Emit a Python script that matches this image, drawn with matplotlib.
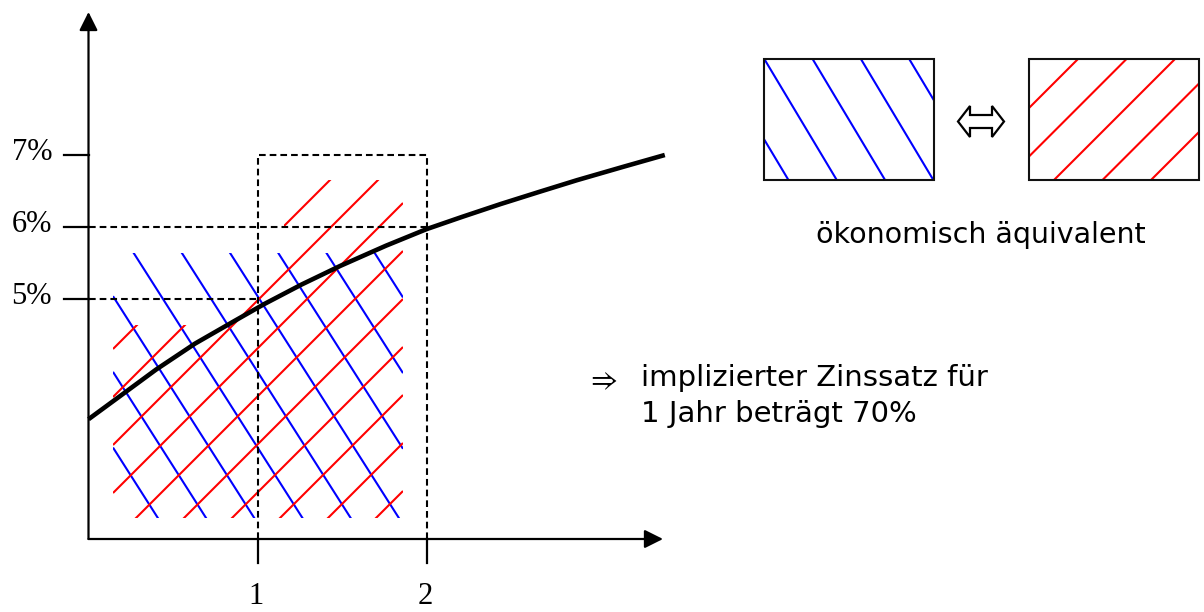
"""
Zinsstrukturkurve mit implizitem Terminzins (Skizze).
"""

import matplotlib.pyplot as plt
import numpy as np
from matplotlib.patches import Polygon, Rectangle

plt.rcParams["lines.scale_dashes"] = False

# Zinsstrukturkurve (Laufzeit in Jahren, Zins in %)
curve_years = [0.0, 0.18, 0.40, 0.63, 0.86, 1.04, 1.26, 1.49, 1.76, 2.00,
               2.21, 2.44, 2.67, 2.89, 3.17, 3.41]
curve_rates = [3.33, 3.64, 4.02, 4.38, 4.69, 4.93, 5.20, 5.46, 5.74, 5.97,
               6.14, 6.32, 6.49, 6.65, 6.84, 7.00]

rate_ticks = [5, 6, 7]
rate_labels = ["5%", "6%", "7%"]
year_ticks = [1, 2]
year_labels = ["1", "2"]

spot_1y = 5.0      # Zins 1 Jahr
spot_2y = 6.0      # Zins 2 Jahre
forward_rate = 7.0  # Terminzins Jahr 1 -> 2

# pixel -> data mapping of the reference (x: 169 px per year, y: 72 px per %)
PX_X0, PX_PER_YEAR = 88.5, 169.0
PX_Y7, PX_PER_PCT = 155.0, 72.0
W, H = 1204, 612


def px_x(px):
    return (px - PX_X0) / PX_PER_YEAR


def px_y(py):
    return 7 - (py - PX_Y7) / PX_PER_PCT


def hatch(ax, verts, slope, spacing, anchor, color, lw=1.5, zorder=2):
    """Parallel lines through anchor, clipped to the polygon verts."""
    region = Polygon(verts, closed=True, fill=False, edgecolor="none")
    ax.add_patch(region)
    xs = [v[0] for v in verts]
    x_lo, x_hi = min(xs), max(xs)
    xx = np.array([x_lo, x_hi])
    for k in range(-40, 41):
        yy = anchor[1] + slope * (xx - anchor[0] - k * spacing)
        (line,) = ax.plot(xx, yy, color=color, lw=lw, zorder=zorder,
                          solid_capstyle="butt")
        line.set_clip_path(region)


fig = plt.figure(figsize=(W / 100, H / 100), dpi=100)
ax = fig.add_axes([0, 0, 1, 1])
ax.set_xlim(px_x(0), px_x(W))
ax.set_ylim(px_y(H), px_y(0))
ax.axis("off")

y_base = px_y(539)
x_end = px_x(663)
y_end = px_y(12)

# axes with arrow heads
arrow = dict(arrowstyle="-|>,head_length=0.8,head_width=0.4", mutation_scale=14,
             lw=1.6, color="black", shrinkA=0, shrinkB=0)
ax.annotate("", xy=(0, y_end), xytext=(0, y_base), arrowprops=arrow)
ax.annotate("", xy=(x_end, y_base), xytext=(0, y_base), arrowprops=arrow)

serif = "Liberation Serif"
for r, lab in zip(rate_ticks, rate_labels):
    ax.plot([px_x(63.5), 0], [r, r], color="black", lw=1.6)
    ax.text(px_x(52), r + 0.04, lab, ha="right", va="center", fontsize=22,
            family=serif)
for t, lab in zip(year_ticks, year_labels):
    ax.plot([t, t], [y_base, px_y(563)], color="black", lw=1.6)
    ax.text(t - 0.01, px_y(597), lab, ha="center", va="center", fontsize=22,
            family=serif)

# dashed guides
dash = dict(color="black", lw=1.5, linestyle=(0, (4.8, 2.9)), zorder=3)
ax.plot([0, 1], [spot_1y, spot_1y], **dash)
ax.plot([0, 2], [spot_2y, spot_2y], **dash)
ax.plot([1, 1, 2, 2], [y_base, forward_rate, forward_rate, y_base], **dash)

# blue hatch: 2-year investment, red hatch: 1 year + forward
blue_area = [(px_x(113), px_y(518)), (px_x(113), px_y(253)),
             (px_x(403), px_y(253)), (px_x(403), px_y(518))]
hatch(ax, blue_area, slope=-1.57 * PX_PER_YEAR / PX_PER_PCT,
      spacing=48.2 / PX_PER_YEAR, anchor=(px_x(133.5), px_y(252.7)),
      color="#0000ff")

red_area = [(px_x(113), px_y(518)), (px_x(113), px_y(325)),
            (px_x(209), px_y(325)), (px_x(306), px_y(228)),
            (px_x(284), px_y(228)), (px_x(284), px_y(180)),
            (px_x(403), px_y(180)), (px_x(403), px_y(518))]
hatch(ax, red_area, slope=PX_PER_YEAR / PX_PER_PCT,
      spacing=48 / PX_PER_YEAR, anchor=(px_x(113), px_y(445)),
      color="#ff0000")

ax.plot(curve_years, curve_rates, color="black", lw=3.3, zorder=4,
        solid_capstyle="butt")

# right-hand key, in pixel coordinates
key = fig.add_axes([0, 0, 1, 1])
key.set_xlim(0, W)
key.set_ylim(H, 0)
key.axis("off")

box_l = [(764, 180), (764, 59), (934, 59), (934, 180)]
box_r = [(1029, 180), (1029, 59), (1199, 59), (1199, 180)]
hatch(key, box_l, slope=1.67, spacing=48.3, anchor=(764.3, 59), color="#0000ff")
hatch(key, box_r, slope=-1.0, spacing=48.5, anchor=(1030, 107), color="#ff0000")
for b in (box_l, box_r):
    key.add_patch(Rectangle(b[1], b[2][0] - b[1][0], b[0][1] - b[1][1],
                            fill=False, edgecolor="#111111", lw=1.5, zorder=3))

cx, cy, L, h, b, Hh = 981, 121.5, 23, 12, 6.5, 15.5
darrow = [(cx - L, cy), (cx - L + h, cy - Hh), (cx - L + h, cy - b),
          (cx + L - h, cy - b), (cx + L - h, cy - Hh), (cx + L, cy),
          (cx + L - h, cy + Hh), (cx + L - h, cy + b), (cx - L + h, cy + b),
          (cx - L + h, cy + Hh)]
key.add_patch(Polygon(darrow, closed=True, facecolor="white", edgecolor="black",
                      lw=1.6, zorder=3))

sans = "DejaVu Sans"
key.text(981, 243, "ökonomisch äquivalent", ha="center", va="baseline",
         fontsize=20.5, family=sans)
key.text(586, 380, r"$\Rightarrow$", ha="left", va="center", fontsize=21,
         math_fontfamily="stix")
key.text(641, 386, "implizierter Zinssatz für", ha="left", va="baseline",
         fontsize=21, family=sans)
key.text(641, 422, "1 Jahr beträgt 70%", ha="left", va="baseline",
         fontsize=21, family=sans)

fig.savefig("out.png", dpi=100)
plt.close(fig)
